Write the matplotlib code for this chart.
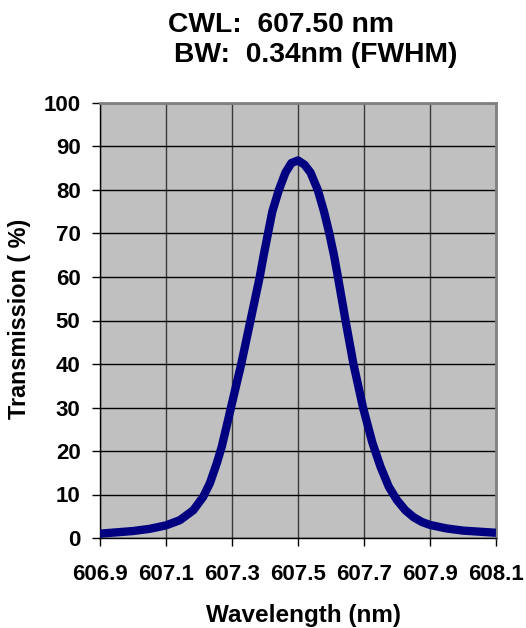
import matplotlib
matplotlib.use('Agg')
import matplotlib.pyplot as plt
import numpy as np

plt.rcParams['font.family'] = ['Liberation Sans', 'DejaVu Sans']
plt.rcParams['font.weight'] = 'bold'

# values
wavelength = [606.9, 607.0, 607.05, 607.1, 607.142, 607.183, 607.213, 607.233,
              607.254, 607.269, 607.284, 607.3, 607.328, 607.356, 607.384, 607.396,
              607.409, 607.422, 607.442, 607.462, 607.48, 607.5, 607.52, 607.538,
              607.56, 607.579, 607.595, 607.609, 607.621, 607.644, 607.668,
              607.697, 607.725, 607.75, 607.775, 607.8, 607.825, 607.85, 607.875,
              607.9, 607.95, 608.0, 608.1]
transmission = [1.0, 1.6, 2.1, 2.9, 4.1, 6.4, 9.5, 12.6,
                17.2, 21.0, 25.8, 31.0, 40.0, 50.0, 60.0, 65.0,
                70.0, 75.0, 80.0, 84.0, 86.2, 86.8, 85.8, 84.0,
                80.0, 75.0, 70.0, 65.0, 60.0, 50.0, 40.0,
                30.0, 22.0, 16.4, 11.8, 8.7, 6.4, 4.8, 3.7,
                3.0, 2.2, 1.7, 1.2]

x_ticks = [606.9, 607.1, 607.3, 607.5, 607.7, 607.9, 608.1]
y_ticks = [0, 10, 20, 30, 40, 50, 60, 70, 80, 90, 100]

W, H = 526, 628
fig = plt.figure(figsize=(W / 100, H / 100), dpi=100)
ax = fig.add_axes([100 / W, 1 - 538 / H, 396 / W, 435 / H])
ax.set_facecolor('#C0C0C0')

ax.plot(wavelength, transmission, color='#000080', linewidth=6,
        solid_joinstyle='round', solid_capstyle='butt', zorder=3)

ax.set_xlim(606.9, 608.1)
ax.set_ylim(0, 100)
ax.set_xticks(x_ticks)
ax.set_xticklabels([f'{v:.1f}' for v in x_ticks])
ax.set_yticks(y_ticks)

ax.xaxis.grid(True, color='#3a3a3a', linewidth=1.0, zorder=1)
ax.yaxis.grid(True, color='black', linewidth=1.0, zorder=1)
ax.set_axisbelow(True)

for side in ['top', 'right']:
    ax.spines[side].set_color('#808080')
    ax.spines[side].set_linewidth(2)
for side in ['left', 'bottom']:
    ax.spines[side].set_color('black')
    ax.spines[side].set_linewidth(1)

ax.tick_params(axis='both', direction='out', length=6, width=1, color='black',
               labelsize=16)
ax.tick_params(axis='y', pad=8)
ax.tick_params(axis='x', pad=13)
for lbl in ax.get_xticklabels() + ax.get_yticklabels():
    lbl.set_fontweight('bold')

fig.text(168 / W, 1 - 31.7 / H, 'CWL:  607.50 nm', fontsize=20.3, fontweight='bold',
         ha='left', va='baseline')
fig.text(174 / W, 1 - 61.7 / H, 'BW:  0.34nm (FWHM)', fontsize=20.3, fontweight='bold',
         ha='left', va='baseline')

fig.text(304 / W, 1 - 621.7 / H, 'Wavelength (nm)', fontsize=17.5, fontweight='bold',
         ha='center', va='baseline')
fig.text(20 / W, 1 - 319 / H, 'Transmission ( %)', fontsize=16.8, fontweight='bold',
         ha='center', va='center', rotation=90)

fig.savefig('out.png', dpi=100)
